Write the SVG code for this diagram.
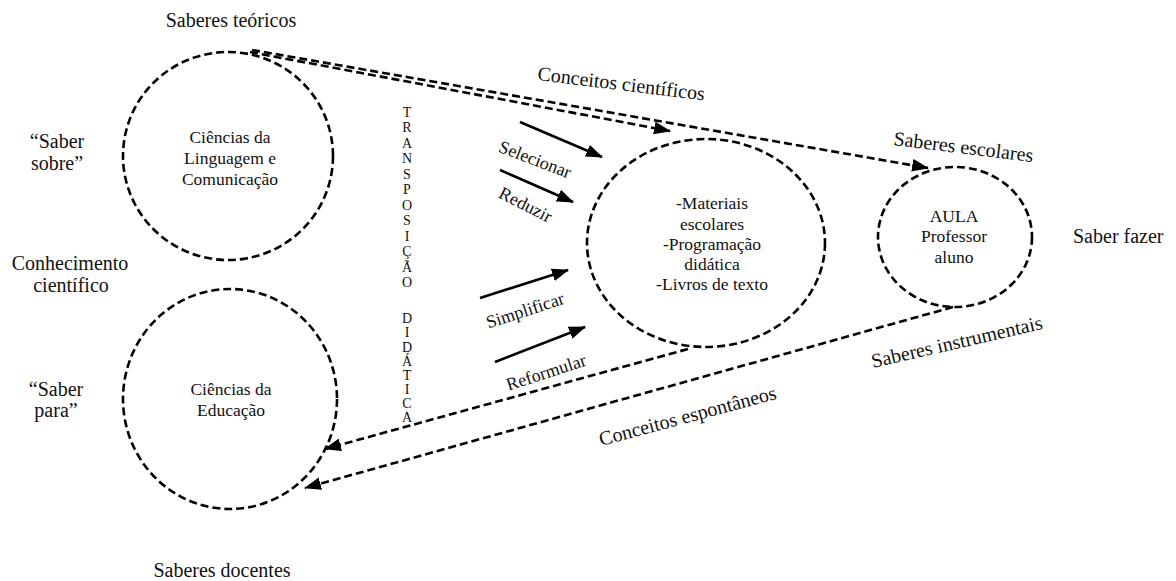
<svg xmlns="http://www.w3.org/2000/svg" width="1176" height="581" viewBox="0 0 1176 581">
<style>
text{font-family:"Liberation Serif","Times New Roman",serif;fill:#111}
.lbl{font-size:20px}
.in{font-size:17.5px}
.arr{font-size:18px}
.vt{font-size:14px}
.dc{fill:none;stroke:#000;stroke-width:2.6;stroke-dasharray:8 4}
.dl{fill:none;stroke:#000;stroke-width:2.6;stroke-dasharray:8 4}
.sl{fill:none;stroke:#000;stroke-width:2.6}
</style>
<defs>
<marker id="ah" viewBox="0 0 16 12" refX="15" refY="6" markerWidth="17" markerHeight="13" markerUnits="userSpaceOnUse" orient="auto">
<path d="M0,0 L16,6 L0,12 z" fill="#000"/>
</marker>
</defs>
<rect width="1176" height="581" fill="#fff"/>

<g id="labels">
<text class="lbl" x="231" y="27" text-anchor="middle">Saberes teóricos</text>
<text class="lbl" x="57" y="148" text-anchor="middle">“Saber</text>
<text class="lbl" x="57" y="170" text-anchor="middle">sobre”</text>
<text class="lbl" x="70" y="270" text-anchor="middle">Conhecimento</text>
<text class="lbl" x="71" y="292" text-anchor="middle">científico</text>
<text class="lbl" x="56" y="396" text-anchor="middle">“Saber</text>
<text class="lbl" x="56" y="417" text-anchor="middle">para”</text>
<text class="lbl" x="222" y="577" text-anchor="middle">Saberes docentes</text>
<text class="lbl" x="1073" y="243">Saber fazer</text>
</g>

<g id="node-linguagem">
<ellipse class="dc" cx="228" cy="156" rx="105" ry="104"/>
<text class="in" x="230" y="143" text-anchor="middle">Ciências da</text>
<text class="in" x="230" y="164" text-anchor="middle">Linguagem e</text>
<text class="in" x="230" y="185" text-anchor="middle">Comunicação</text>
</g>

<g id="node-educacao">
<ellipse class="dc" cx="230" cy="399" rx="107" ry="110"/>
<text class="in" x="231" y="395" text-anchor="middle">Ciências da</text>
<text class="in" x="231" y="416" text-anchor="middle">Educação</text>
</g>

<g id="node-materiais">
<ellipse class="dc" cx="706" cy="243" rx="119" ry="104"/>
<text class="in" x="712" y="209" text-anchor="middle">-Materiais</text>
<text class="in" x="712" y="230" text-anchor="middle">escolares</text>
<text class="in" x="712" y="250" text-anchor="middle">-Programação</text>
<text class="in" x="712" y="270" text-anchor="middle">didática</text>
<text class="in" x="712" y="290" text-anchor="middle">-Livros de texto</text>
</g>

<g id="node-aula">
<ellipse class="dc" cx="955" cy="237" rx="77" ry="70"/>
<text class="in" x="954" y="222" text-anchor="middle">AULA</text>
<text class="in" x="954" y="242" text-anchor="middle">Professor</text>
<text class="in" x="954" y="263" text-anchor="middle">aluno</text>
</g>

<g id="transposicao" class="vt" text-anchor="middle">
<text class="vt" x="407" y="117">T</text>
<text class="vt" x="407" y="132">R</text>
<text class="vt" x="407" y="148">A</text>
<text class="vt" x="407" y="163">N</text>
<text class="vt" x="407" y="179">S</text>
<text class="vt" x="407" y="194">P</text>
<text class="vt" x="407" y="210">O</text>
<text class="vt" x="407" y="225">S</text>
<text class="vt" x="407" y="241">I</text>
<text class="vt" x="407" y="256">Ç</text>
<text class="vt" x="407" y="272">Ã</text>
<text class="vt" x="407" y="287">O</text>
<text class="vt" x="407" y="323">D</text>
<text class="vt" x="407" y="337">I</text>
<text class="vt" x="407" y="352">D</text>
<text class="vt" x="407" y="366">Á</text>
<text class="vt" x="407" y="380">T</text>
<text class="vt" x="407" y="394">I</text>
<text class="vt" x="407" y="408">C</text>
<text class="vt" x="407" y="422">A</text>
</g>

<g id="connectors">
<path class="dl" d="M250,52 L670,131" marker-end="url(#ah)"/>
<path class="dl" d="M252,50 L928,168" marker-end="url(#ah)"/>
<path class="dl" d="M688,349 L325,449" marker-end="url(#ah)"/>
<path class="dl" d="M953,307 L305,488" marker-end="url(#ah)"/>
<path class="sl" d="M520,122 L602,157" marker-end="url(#ah)"/>
<path class="sl" d="M500,170 L573,202" marker-end="url(#ah)"/>
<path class="sl" d="M480,298 L568,270" marker-end="url(#ah)"/>
<path class="sl" d="M495,362 L585,327" marker-end="url(#ah)"/>
</g>

<g id="connector-labels">
<text class="lbl" x="537" y="80" transform="rotate(7 537 80)">Conceitos científicos</text>
<text class="lbl" x="893" y="145" transform="rotate(7 893 145)">Saberes escolares</text>
<text class="lbl" x="873" y="368" transform="rotate(-13 873 368)">Saberes instrumentais</text>
<text class="lbl" x="601" y="446" transform="rotate(-15 601 446)">Conceitos espontâneos</text>
<text class="arr" x="533" y="165" text-anchor="middle" transform="rotate(21 533 165)">Selecionar</text>
<text class="arr" x="523" y="210" text-anchor="middle" transform="rotate(27 523 210)">Reduzir</text>
<text class="arr" x="527" y="316" text-anchor="middle" transform="rotate(-18 527 316)">Simplificar</text>
<text class="arr" x="548" y="378" text-anchor="middle" transform="rotate(-18 548 378)">Reformular</text>
</g>
</svg>
